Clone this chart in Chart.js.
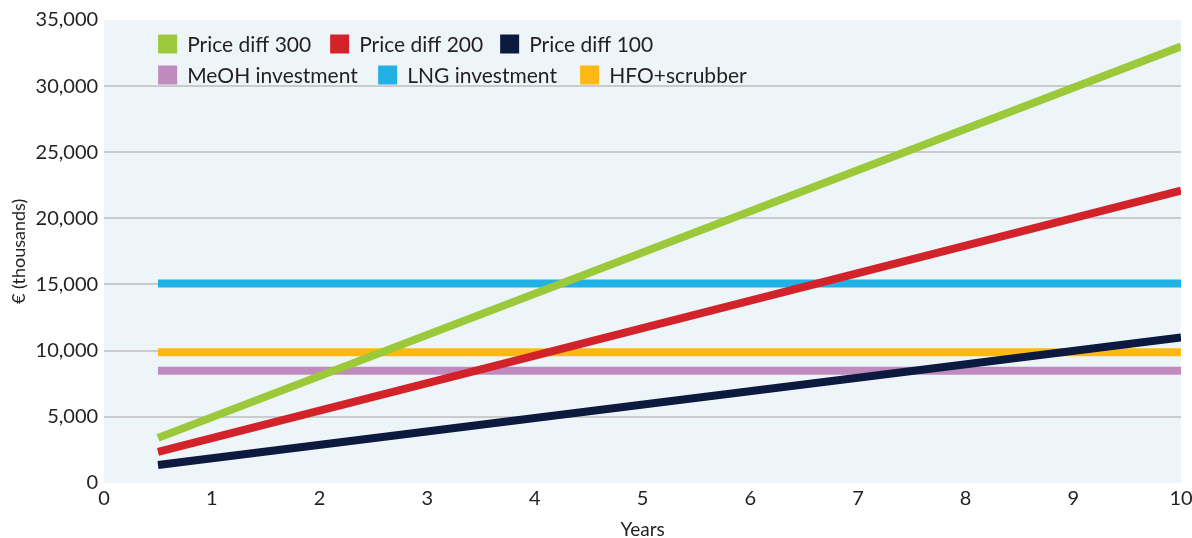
<!DOCTYPE html>
<html>
<head>
<meta charset="utf-8">
<script src="https://cdn.jsdelivr.net/npm/chart.js"></script>
<style>
  body { margin: 0; background: #fff; }
  #wrap { width: 1192px; height: 538px; }
</style>
</head>
<body>
<div id="wrap"><canvas id="myChart"></canvas></div>
<script>
// data (years vs € thousands)
const years = [0.5, 10];
const priceDiff300 = [3400, 33000];
const priceDiff200 = [2350, 22100];
const priceDiff100 = [1350, 11000];
const meohInvestment = [8480, 8480];
const lngInvestment = [15080, 15080];
const hfoScrubber = [9880, 9880];

const seriesNames = ['Price diff 300', 'Price diff 200', 'Price diff 100', 'MeOH investment', 'LNG investment', 'HFO+scrubber'];
const seriesColors = ['#9bc93a', '#d2232a', '#0c1a3f', '#bf8bbf', '#22b1e5', '#fdb813'];
const seriesValues = [priceDiff300, priceDiff200, priceDiff100, meohInvestment, lngInvestment, hfoScrubber];

const fontFamily = 'Lato, "Open Sans", sans-serif';

// light blue plot background
const plotBg = {
  id: 'plotBg',
  beforeDraw(chart) {
    const a = chart.chartArea;
    const ctx = chart.ctx;
    ctx.save();
    ctx.fillStyle = '#edf5f9';
    ctx.fillRect(a.left, a.top, a.right - a.left, a.bottom - a.top);
    ctx.restore();
  }
};

// legend inside the plot, 3 items per row
const insideLegend = {
  id: 'insideLegend',
  afterDraw(chart) {
    const a = chart.chartArea;
    const ctx = chart.ctx;
    const colX = [[54, 226, 396], [54, 274, 476]];
    ctx.save();
    ctx.font = '21px ' + fontFamily;
    ctx.textBaseline = 'middle';
    chart.data.datasets.forEach((ds, i) => {
      const row = Math.floor(i / 3);
      const x = a.left + colX[row][i % 3];
      const y = a.top + 24 + row * 31;
      ctx.fillStyle = ds.borderColor;
      ctx.fillRect(x, y - 9.5, 19, 19);
      ctx.fillStyle = '#231f20';
      ctx.fillText(ds.label, x + 29, y + 1);
    });
    ctx.restore();
  }
};

const datasets = seriesNames.map((name, i) => ({
  label: name,
  data: years.map((x, j) => ({ x: x, y: seriesValues[i][j] })),
  borderColor: seriesColors[i],
  backgroundColor: seriesColors[i],
  borderWidth: 8,
  pointRadius: 0,
  borderCapStyle: 'butt',
  tension: 0
}));

const ctx = document.getElementById('myChart').getContext('2d');
new Chart(ctx, {
  type: 'line',
  data: { datasets: datasets },
  plugins: [plotBg, insideLegend],
  options: {
    responsive: true,
    maintainAspectRatio: false,
    animation: false,
    layout: { padding: { top: 20, right: 0, left: 8, bottom: 0 } },
    plugins: {
      legend: { display: false },
      tooltip: { enabled: false }
    },
    scales: {
      x: {
        type: 'linear',
        min: 0,
        max: 10,
        afterFit: s => { s.paddingRight = 11; },
        ticks: { stepSize: 1, color: '#231f20', font: { family: fontFamily, size: 20 }, padding: 4 },
        grid: { display: false, drawTicks: false },
        border: { display: false },
        title: { display: true, text: 'Years', color: '#231f20', font: { family: fontFamily, size: 19, lineHeight: 0.85 }, padding: { top: 7, bottom: 0 } }
      },
      y: {
        min: 0,
        max: 35000,
        ticks: {
          stepSize: 5000,
          color: '#231f20',
          font: { family: fontFamily, size: 20 },
          padding: 6,
          callback: v => v.toLocaleString('en-US')
        },
        grid: {
          drawTicks: false,
          lineWidth: 2,
          color: c => (c.tick.value === 0 || c.tick.value === 35000) ? 'rgba(0,0,0,0)' : '#c9cbcd'
        },
        border: { display: false },
        title: { display: true, text: '€ (thousands)', color: '#231f20', font: { family: fontFamily, size: 18 }, padding: { top: 0, bottom: 0 } }
      }
    }
  }
});
</script>
</body>
</html>
